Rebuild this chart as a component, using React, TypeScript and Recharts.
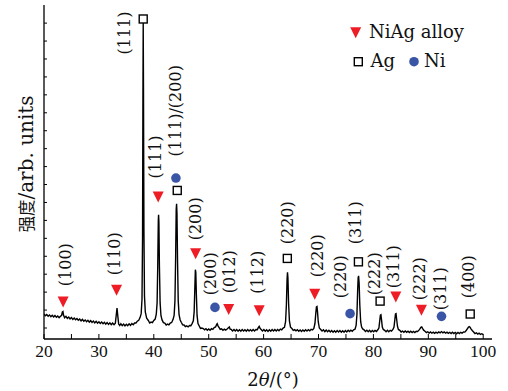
import React from 'react';
import { ComposedChart, Line, Scatter, XAxis, YAxis } from 'recharts';

// XRD scan, [2theta, intensity]
const scanLow: [number, number][] = [
  [20, 178], [20.25, 168], [20.5, 175], [20.75, 166], [21, 173], [21.25, 163], [21.5, 171], [21.75, 162],
  [22, 169], [22.25, 160], [22.5, 167], [22.75, 158], [23, 166], [23.2, 170], [23.35, 190], [23.45, 192],
  [23.55, 172], [23.75, 157], [24, 165], [24.25, 154], [24.5, 161], [24.75, 151], [25, 158], [25.25, 148],
  [25.5, 156], [25.75, 146], [26, 153], [26.25, 143], [26.5, 150], [26.75, 140], [27, 148], [27.25, 138],
  [27.5, 145], [27.75, 135], [28, 143], [28.25, 133], [28.5, 141], [28.75, 131], [29, 139], [29.25, 129],
  [29.5, 137], [29.75, 127], [30, 135], [30.25, 125], [30.5, 133], [30.75, 124], [31, 132], [31.25, 122],
  [31.5, 130], [31.75, 120], [32, 129], [32.25, 119], [32.5, 127], [32.75, 118], [33, 127], [33.15, 170],
  [33.3, 211], [33.45, 165], [33.6, 122], [33.8, 114], [34, 124], [34.25, 113], [34.5, 122], [34.75, 112],
  [35, 121], [35.25, 113], [35.5, 123], [35.75, 115], [36, 125], [36.25, 118], [36.5, 128], [36.75, 128],
];

const scanMain: [number, number][] = [
  [37, 138], [37.25, 143], [37.5, 158], [37.7, 180], [37.85, 260], [37.95, 600], [38.02, 1400], [38.07, 1800],
  [38.12, 1450], [38.2, 650], [38.3, 280], [38.45, 190], [38.7, 155], [39, 142], [39.25, 128], [39.5, 133],
  [39.75, 130], [40, 142], [40.25, 150], [40.45, 177], [40.6, 240], [40.72, 450], [40.82, 700], [40.87, 731],
  [40.93, 690], [41.02, 450], [41.15, 240], [41.3, 170], [41.5, 145], [41.75, 130], [42, 127], [42.25, 117],
  [42.5, 122], [42.75, 118], [43, 128], [43.25, 131], [43.5, 147], [43.7, 170], [43.85, 250], [43.98, 500],
  [44.08, 760], [44.15, 792], [44.22, 740], [44.32, 480], [44.45, 250], [44.6, 175], [44.8, 145], [45, 132],
  [45.25, 118], [45.5, 117], [45.75, 108], [46, 112], [46.25, 106], [46.5, 114], [46.75, 113], [47, 126],
  [47.2, 140], [47.35, 190], [47.48, 330], [47.57, 425], [47.65, 410], [47.75, 290], [47.88, 170], [48.05, 125],
  [48.3, 110], [48.5, 98], [48.75, 100],
];

const scanMid: [number, number][] = [
  [49, 97], [49.25, 90], [49.5, 96], [49.75, 88], [50, 95], [50.25, 88], [50.5, 96], [50.75, 92],
  [51, 102], [51.25, 106], [51.45, 120], [51.55, 124], [51.7, 112], [51.9, 102], [52.1, 92], [52.35, 95],
  [52.6, 87], [52.85, 94], [53.1, 88], [53.4, 96], [53.6, 102], [53.75, 106], [53.9, 94], [54.1, 92],
  [54.35, 84], [54.6, 92], [54.85, 83], [55.1, 91], [55.35, 82], [55.6, 90], [55.85, 82], [56.1, 91],
  [56.35, 83], [56.6, 90], [56.85, 82], [57.1, 91], [57.35, 83], [57.6, 90], [57.85, 83], [58.1, 92],
  [58.35, 84], [58.6, 92], [58.85, 91], [59.05, 103], [59.2, 109], [59.35, 98], [59.55, 92], [59.8, 83],
  [60.05, 91], [60.3, 82], [60.55, 90], [60.8, 81], [61.05, 90], [61.3, 82], [61.55, 91], [61.8, 83],
  [62.05, 92], [62.3, 84], [62.55, 92], [62.8, 85], [63.05, 94], [63.3, 90], [63.55, 100], [63.8, 104],
  [64, 135], [64.15, 230], [64.27, 370], [64.35, 410], [64.43, 380], [64.55, 240], [64.7, 140], [64.9, 105],
  [65.15, 97], [65.4, 87], [65.65, 91], [65.9, 84], [66.15, 90], [66.4, 82], [66.65, 89], [66.9, 81],
  [67.15, 89], [67.4, 82], [67.65, 90], [67.9, 83], [68.15, 91], [68.4, 84], [68.65, 92], [68.9, 89],
  [69.15, 98], [69.35, 125], [69.5, 180], [69.62, 218], [69.72, 220], [69.82, 190], [69.95, 135], [70.15, 100],
];

const scanHigh: [number, number][] = [
  [70.4, 92], [70.65, 83], [70.9, 90], [71.15, 80], [71.4, 88], [71.65, 79], [71.9, 87], [72.15, 78],
  [72.4, 86], [72.65, 77], [72.9, 85], [73.15, 77], [73.4, 86], [73.65, 78], [73.9, 86], [74.15, 77],
  [74.4, 85], [74.65, 77], [74.9, 86], [75.15, 78], [75.4, 87], [75.65, 80], [75.9, 88], [76.15, 82],
  [76.4, 90], [76.65, 93], [76.85, 115], [77, 175], [77.12, 300], [77.22, 380], [77.3, 391], [77.4, 350],
  [77.52, 230], [77.68, 135], [77.85, 105], [78.05, 95], [78.3, 90], [78.55, 81], [78.8, 88], [79.05, 79],
  [79.3, 87], [79.55, 78], [79.8, 86], [80.05, 79], [80.3, 87], [80.55, 81], [80.8, 90], [81, 100],
  [81.15, 140], [81.27, 172], [81.37, 174], [81.48, 145], [81.62, 105], [81.8, 92], [82.05, 87], [82.3, 79],
  [82.55, 87], [82.8, 79], [83.05, 87], [83.3, 83], [83.55, 92], [83.75, 105], [83.9, 145], [84.02, 178],
  [84.12, 180], [84.23, 150], [84.38, 110], [84.55, 92], [84.8, 87], [85.05, 78], [85.3, 83], [85.55, 76],
  [85.8, 83], [86.05, 76], [86.3, 82], [86.55, 75], [86.8, 82], [87.05, 75], [87.3, 81], [87.55, 75],
  [87.8, 82], [88.05, 80], [88.3, 88], [88.5, 96], [88.65, 104], [88.8, 106], [88.95, 98], [89.15, 88],
  [89.4, 82], [89.65, 74], [89.9, 79], [90.15, 72], [90.4, 78], [90.65, 71], [90.9, 77], [91.15, 70],
  [91.4, 77], [91.65, 71], [91.9, 78], [92.15, 73], [92.4, 80], [92.65, 73], [92.9, 78], [93.15, 71],
  [93.4, 77], [93.65, 70], [93.9, 76], [94.15, 69], [94.4, 76], [94.65, 69], [94.9, 75], [95.15, 68],
  [95.4, 75], [95.65, 69], [95.9, 76], [96.15, 71], [96.4, 78], [96.65, 77], [96.9, 86], [97.1, 95],
  [97.3, 104], [97.45, 108], [97.6, 104], [97.8, 94], [98, 86], [98.25, 78], [98.5, 69], [98.75, 73],
  [99, 66], [99.25, 71], [99.5, 64], [99.75, 68], [100, 63],
];

const scan = [...scanLow, ...scanMain, ...scanMid, ...scanHigh].map(([x, y]) => ({ x, y }));

// phase markers (2theta, marker height)
const alloyPeaks = [
  { x: 23.48, y: 248 }, { x: 33.22, y: 313 }, { x: 40.8, y: 833 }, { x: 47.62, y: 517 }, { x: 53.64, y: 206 },
  { x: 59.2, y: 199 }, { x: 69.32, y: 291 }, { x: 84.08, y: 276 }, { x: 88.75, y: 202 },
];
const agPeaks = [
  { x: 38.07, y: 1823 }, { x: 44.27, y: 867 }, { x: 64.32, y: 488 }, { x: 77.27, y: 469 }, { x: 81.22, y: 250 },
  { x: 97.63, y: 178 },
];
const niPeaks = [
  { x: 44.03, y: 936 }, { x: 51.14, y: 215 }, { x: 75.75, y: 180 }, { x: 92.4, y: 165 },
];

const peakLabels = [
  { x: 23.92, y: 453, text: '(100)' },
  { x: 32.82, y: 514, text: '(110)' },
  { x: 34.73, y: 1745, text: '(111)' },
  { x: 40.29, y: 1054, text: '(111)' },
  { x: 44.03, y: 1311, text: '(111)/(200)' },
  { x: 47.68, y: 709, text: '(200)' },
  { x: 50.41, y: 402, text: '(200)' },
  { x: 53.87, y: 414, text: '(012)' },
  { x: 58.89, y: 411, text: '(112)' },
  { x: 64.27, y: 687, text: '(220)' },
  { x: 69.74, y: 503, text: '(220)' },
  { x: 73.94, y: 386, text: '(220)' },
  { x: 76.79, y: 687, text: '(311)' },
  { x: 80.11, y: 402, text: '(222)' },
  { x: 83.59, y: 442, text: '(311)' },
  { x: 88.33, y: 375, text: '(222)' },
  { x: 92.16, y: 319, text: '(311)' },
  { x: 97.27, y: 386, text: '(400)' },
];

const xTicks = [20, 25, 30, 35, 40, 45, 50, 55, 60, 65, 70, 75, 80, 85, 90, 95, 100];
const yTicks = [100, 200, 300, 400, 500, 600, 700, 800, 900, 1000, 1100, 1200, 1300, 1400, 1500, 1600, 1700, 1800];

const RED = '#ee1c24';
const BLUE = '#3a55a5';
const SERIF = '"DejaVu Serif", serif';
const TIMES = '"Liberation Serif", serif';

const Triangle = ({ cx, cy }: any) => (
  <polygon points={`${cx - 5.5},${cy - 5} ${cx + 5.5},${cy - 5} ${cx},${cy + 6}`} fill={RED} />
);
const Square = ({ cx, cy }: any) => (
  <rect x={cx - 4} y={cy - 4} width={8} height={8} fill="#fff" stroke="#000" strokeWidth={1.4} />
);
const Dot = ({ cx, cy }: any) => <circle cx={cx} cy={cy} r={4.8} fill={BLUE} />;
const PeakText = ({ cx, cy, payload }: any) => (
  <text
    x={cx}
    y={cy}
    transform={`rotate(-90 ${cx} ${cy})`}
    textAnchor="middle"
    dominantBaseline="central"
    style={{ fontFamily: SERIF, fontSize: 16 }}
    fill="#111"
  >
    {payload.text}
  </text>
);

const axisLine = { stroke: '#000', strokeWidth: 1.3 };
const tickLine = { stroke: '#000', strokeWidth: 1 };
const noLabel = () => '';

export default function App() {
  return (
    <div style={{ position: 'absolute', left: 0, top: 0, width: 508, height: 391, background: '#fff', fontFamily: SERIF }}>
      <ComposedChart width={508} height={391} margin={{ top: 5, right: 16, bottom: 0, left: 0 }}>
        <XAxis
          dataKey="x"
          type="number"
          domain={[20, 101.6]}
          allowDataOverflow
          ticks={xTicks}
          interval={0}
          height={52}
          tickSize={-5}
          tickMargin={11}
          axisLine={axisLine}
          tickLine={tickLine}
          tick={{ fill: '#111', fontSize: 17.5, style: { fontFamily: TIMES } }}
          tickFormatter={(v) => (v % 10 === 0 ? String(v) : '')}
        />
        <XAxis
          xAxisId="top"
          orientation="top"
          type="number"
          domain={[20, 101.6]}
          allowDataOverflow
          ticks={xTicks}
          interval={0}
          height={0}
          tickSize={-3}
          axisLine={axisLine}
          tickLine={tickLine}
          tickFormatter={noLabel}
        />
        <YAxis
          dataKey="y"
          type="number"
          domain={[38.7, 1901]}
          allowDataOverflow
          ticks={yTicks}
          interval={0}
          width={44}
          tickSize={-3}
          axisLine={axisLine}
          tickLine={tickLine}
          tickFormatter={noLabel}
        />
        <YAxis
          yAxisId="right"
          orientation="right"
          type="number"
          domain={[38.7, 1901]}
          allowDataOverflow
          ticks={yTicks}
          interval={0}
          width={0}
          tickSize={-3}
          axisLine={axisLine}
          tickLine={tickLine}
          tickFormatter={noLabel}
        />
        <Line data={scan} dataKey="y" type="linear" dot={false} stroke="#000" strokeWidth={1.4} isAnimationActive={false} />
        <Scatter data={alloyPeaks} shape={Triangle} isAnimationActive={false} />
        <Scatter data={agPeaks} shape={Square} isAnimationActive={false} />
        <Scatter data={niPeaks} shape={Dot} isAnimationActive={false} />
        <Scatter data={peakLabels} shape={PeakText} isAnimationActive={false} />
      </ComposedChart>

      <svg width={508} height={391} style={{ position: 'absolute', left: 0, top: 0, pointerEvents: 'none' }}>
        {/* legend */}
        <Triangle cx={355.7} cy={32.3} />
        <text x={369} y={38} style={{ fontFamily: SERIF, fontSize: 18 }} fill="#111">NiAg alloy</text>
        <Square cx={358.3} cy={61.7} />
        <text x={370.5} y={66.7} style={{ fontFamily: SERIF, fontSize: 18 }} fill="#111">Ag</text>
        <Dot cx={414} cy={61.7} />
        <text x={424} y={66.7} style={{ fontFamily: SERIF, fontSize: 18 }} fill="#111">Ni</text>

        {/* axis titles */}
        <text x={273} y={386} textAnchor="middle" style={{ fontFamily: SERIF, fontSize: 18 }} fill="#111">
          2<tspan style={{ fontStyle: 'italic' }}>θ</tspan>/(°)
        </text>
        <text
          x={33}
          y={164}
          transform="rotate(-90 33 164)"
          textAnchor="middle"
          style={{ fontFamily: `${SERIF}`, fontSize: 20 }}
          fill="#111"
        >
          <tspan style={{ fontFamily: '"Noto Sans CJK SC"', fontSize: 16.5 }}>强度</tspan>/arb. units
        </text>
      </svg>
    </div>
  );
}
